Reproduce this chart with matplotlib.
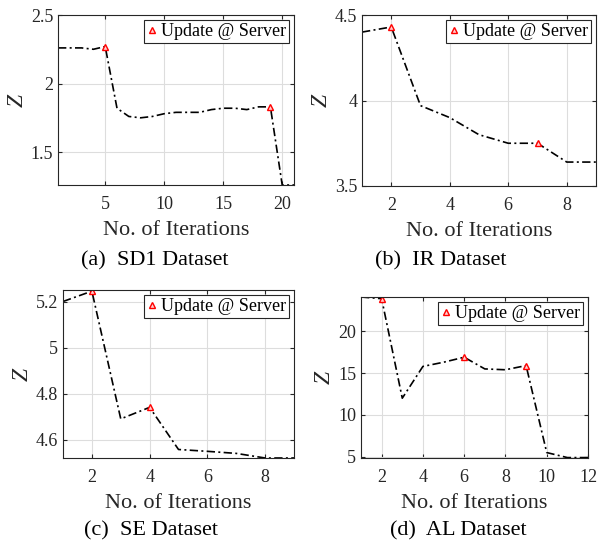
import matplotlib.pyplot as plt
import numpy as np
from matplotlib.ticker import FormatStrFormatter

plt.rcParams['font.family'] = ['Liberation Serif', 'DejaVu Serif']
plt.rcParams['mathtext.fontset'] = 'custom'
plt.rcParams['mathtext.it'] = 'Liberation Serif:italic'

# data
z_sd1 = [2.26, 2.26, 2.26, 2.25, 2.27, 1.82, 1.76, 1.75, 1.76, 1.78, 1.79,
         1.79, 1.79, 1.81, 1.82, 1.82, 1.81, 1.83, 1.83, 1.26, 1.26]
upd_sd1 = [5, 19]
z_ir = [4.40, 4.43, 3.97, 3.90, 3.80, 3.75, 3.75, 3.64, 3.64]
upd_ir = [2, 7]
z_se = [5.20, 5.245, 4.69, 4.74, 4.557, 4.549, 4.54, 4.52, 4.52]
upd_se = [2, 4]
z_al = [24.1, 23.9, 12.0, 15.8, 16.3, 16.9, 15.5, 15.4, 15.9, 5.5, 4.9, 4.9]
upd_al = [2, 6, 9]

captions = ['(a)  SD1 Dataset', '(b)  IR Dataset', '(c)  SE Dataset', '(d)  AL Dataset']
panels = [
    (z_sd1, upd_sd1, (1, 21), (1.26, 2.5), [5, 10, 15, 20], [1.5, 2, 2.5]),
    (z_ir, upd_ir, (1, 9), (3.5, 4.5), [2, 4, 6, 8], [3.5, 4, 4.5]),
    (z_se, upd_se, (1, 9), (4.52, 5.25), [2, 4, 6, 8], [4.6, 4.8, 5, 5.2]),
    (z_al, upd_al, (1, 12), (4.85, 24.1), [2, 4, 6, 8, 10, 12], [5, 10, 15, 20]),
]

W, H = 609, 546
# axes boxes in pixels: left, right, top, bottom
boxes = [(58, 294, 15, 185), (362, 596, 15, 186), (63, 294, 290, 458), (361, 588, 297, 458)]
cap_pos = [(155, 261), (441, 261), (151, 531), (458, 531)]

fig = plt.figure(figsize=(W / 100, H / 100), dpi=100)

for (z, upd, xl, yl, xt, yt), (l, r, t, b), cap, (cx, cy) in zip(panels, boxes, captions, cap_pos):
    ax = fig.add_axes([l / W, 1 - b / H, (r - l) / W, (b - t) / H])
    x = np.arange(1, len(z) + 1)
    ax.plot(x, z, color='black', linestyle=(0, (5, 2, 1.2, 2)), linewidth=1.2)
    uy = [z[i - 1] for i in upd]
    ax.plot(upd, uy, linestyle='none', marker='^', markersize=5,
            markerfacecolor='#ffd0d0', markeredgecolor='red', markeredgewidth=1.0,
            label='Update @ Server')
    ax.set_xlim(*xl)
    ax.set_ylim(*yl)
    ax.set_xticks(xt)
    ax.set_yticks(yt)
    ax.yaxis.set_major_formatter(FormatStrFormatter('%g'))
    ax.grid(True, color='#dddddd', linewidth=0.8)
    ax.set_axisbelow(True)
    ax.tick_params(direction='in', top=True, right=True, labelsize=13,
                   length=3, colors='#262626', labelcolor='#262626')
    ax.tick_params(axis='x', pad=8)
    for s in ax.spines.values():
        s.set_color('#262626')
        s.set_linewidth(0.8)
    ax.set_xlabel('No. of Iterations', fontsize=16, color='#262626', labelpad=6)
    ax.set_ylabel('$Z$', fontsize=17, color='#262626', labelpad=2)
    leg = ax.legend(loc='upper right', fontsize=13, handlelength=0.6, handletextpad=0.2,
                    borderpad=0.15, borderaxespad=0.3, fancybox=False, framealpha=1)
    leg.get_frame().set_edgecolor('#262626')
    leg.get_frame().set_linewidth(0.8)
    fig.text(cx / W, 1 - cy / H, cap, fontsize=16, ha='center', va='center', color='black')

fig.savefig('out.png', dpi=100)
